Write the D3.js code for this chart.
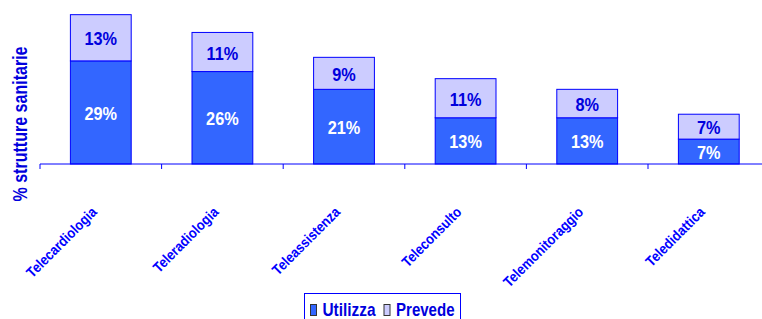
<!DOCTYPE html>
<html><head><meta charset="utf-8">
<script src="https://cdn.jsdelivr.net/npm/d3@7/dist/d3.min.js"></script>
<style>body{margin:0;background:#fff}svg{display:block;font-family:"Liberation Sans",Arial,sans-serif;font-weight:bold}</style>
</head><body><svg id="c" width="762" height="319"></svg>
<script>
const categories = ["Telecardiologia","Teleradiologia","Teleassistenza","Teleconsulto","Telemonitoraggio","Teledidattica"];
const utilizza = [29,26,21,13,13,7];
const prevede = [13,11,9,11,8,7];
const seriesNames = ["Utilizza","Prevede"];
const colors = ["#3366FF","#CCCCFF"];
const textBlue = "#0000DD";

const svg = d3.select("#c");
const x = d3.scaleBand().domain(categories).range([40, 769.6]).paddingInner(0.5).paddingOuter(0.25);
const y = d3.scaleLinear().domain([0,45]).range([164,4]);

const data = categories.map((c,i)=>({c, u:utilizza[i], p:prevede[i]}));
const stack = d3.stack().keys(["u","p"])(data);

const g = svg.append("g");
stack.forEach((layer,li)=>{
  g.selectAll(null).data(layer).enter().append("rect")
    .attr("x", d=>x(d.data.c)).attr("width", x.bandwidth())
    .attr("y", d=>y(d[1])).attr("height", d=>y(d[0])-y(d[1]))
    .attr("fill", colors[li]).attr("stroke","#0000FF").attr("stroke-width",1);
  g.selectAll(null).data(layer).enter().append("text")
    .attr("transform", d=>`translate(${x(d.data.c)+x.bandwidth()/2},${(y(d[0])+y(d[1]))/2+7.5}) scale(0.88,1)`)
    .attr("text-anchor","middle")
    .attr("font-size",18.5)
    .attr("fill", li===0 ? "#FFFFFF" : textBlue)
    .text(d=>(d[1]-d[0])+"%");
});

// x axis
const axis = d3.axisBottom(x).tickSize(0).tickFormat("");
const ax = svg.append("g").attr("transform","translate(0,164)").call(axis);
ax.select(".domain").attr("stroke","#0000FF").attr("d","M40,0H762");
const bounds = categories.map((c,i)=>x(c)-x.bandwidth()/2);
ax.selectAll(".bnd").data(bounds).enter().append("line")
  .attr("x1",d=>d).attr("x2",d=>d).attr("y1",0).attr("y2",5).attr("stroke","#0000FF");
ax.selectAll(".lbl").data(categories).enter().append("text")
  .attr("transform", d=>`translate(${x(d)+x.bandwidth()/2-3},${49}) rotate(-45) scale(0.88,1)`)
  .attr("text-anchor","end").attr("font-size",14.5)
  .attr("fill","#0000FF").text(d=>d);

// y label
svg.append("text").attr("transform","translate(27,124) rotate(-90)")
  .attr("text-anchor","middle").attr("font-size",20)
  .attr("textLength",155).attr("lengthAdjust","spacingAndGlyphs")
  .attr("fill",textBlue).text("% strutture sanitarie");

// legend
const lg = svg.append("g");
lg.append("rect").attr("x",304.5).attr("y",293.5).attr("width",156).attr("height",30)
  .attr("fill","#fff").attr("stroke","#0000FF");
const lx = [310,383.5];
const lw = [53,58.5];
seriesNames.forEach((n,i)=>{
  lg.append("rect").attr("x",lx[i]+0.5).attr("y",304.5).attr("width",6).attr("height",11)
    .attr("fill",colors[i]).attr("stroke","#333");
  lg.append("text").attr("x",lx[i]+12.5).attr("y",316).attr("font-size",18.5)
    .attr("textLength",lw[i]).attr("lengthAdjust","spacingAndGlyphs")
    .attr("fill",textBlue).text(n);
});
</script></body></html>
